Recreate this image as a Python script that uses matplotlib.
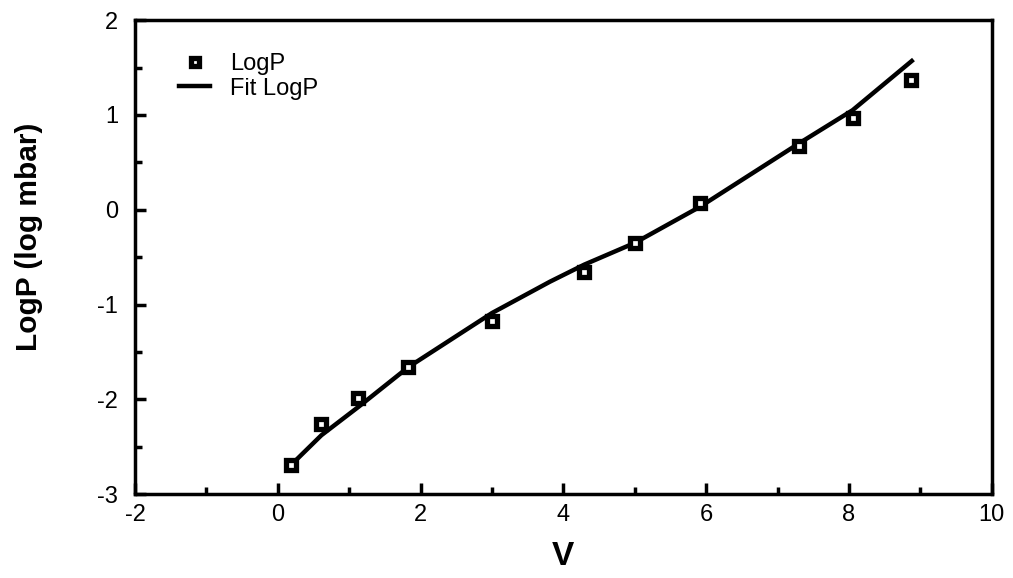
import numpy as np
import matplotlib
matplotlib.use('Agg')
import matplotlib.pyplot as plt
from matplotlib.ticker import MultipleLocator

plt.rcParams['font.family'] = ['Liberation Sans', 'DejaVu Sans']
plt.rcParams['axes.unicode_minus'] = False

# measured points (V, LogP)
v_data = [0.19, 0.61, 1.13, 1.83, 3.0, 4.29, 5.0, 5.91, 7.3, 8.05, 8.87]
logp_data = [-2.69, -2.26, -1.99, -1.66, -1.17, -0.655, -0.35, 0.07, 0.67, 0.97, 1.37]

# fitted curve
v_fit = [0.19, 0.61, 1.13, 1.83, 3.0, 3.81, 4.29, 5.0, 5.91, 7.3, 8.05, 8.88]
logp_fit = [-2.69, -2.38, -2.08, -1.66, -1.09, -0.76, -0.58, -0.35, 0.03, 0.70, 1.05, 1.57]

fig = plt.figure(figsize=(10.13, 5.78), dpi=100)
ax = fig.add_axes([0.1333, 0.1453, 0.8457, 0.8197])

ax.plot(v_data, logp_data, linestyle='none', marker='s', markersize=6.5,
        markerfacecolor='white', markeredgecolor='black', markeredgewidth=3.8,
        label='LogP', zorder=3)
ax.plot(v_fit, logp_fit, color='black', linewidth=3.2, label='Fit LogP', zorder=2)

ax.set_xlim(-2, 10)
ax.set_ylim(-3, 2)
ax.xaxis.set_major_locator(MultipleLocator(2))
ax.xaxis.set_minor_locator(MultipleLocator(1))
ax.yaxis.set_major_locator(MultipleLocator(1))
ax.yaxis.set_minor_locator(MultipleLocator(0.5))

for s in ax.spines.values():
    s.set_linewidth(2.5)
ax.tick_params(which='major', direction='in', length=8, width=2.5, labelsize=17)
ax.tick_params(which='minor', direction='in', length=5, width=2.5)
ax.tick_params(axis='x', pad=7)
ax.tick_params(axis='y', pad=12)

ax.set_xlabel('V', fontsize=24, fontweight='bold', labelpad=11)
ax.set_ylabel('LogP (log mbar)', fontsize=21.5, fontweight='bold')
ax.yaxis.set_label_coords(-0.107, 0.542)

ax.legend(loc='upper left', bbox_to_anchor=(0.027, 0.975), frameon=False,
          fontsize=17, handlelength=1.3, handletextpad=0.85, labelspacing=0.1,
          markerscale=0.9)

fig.savefig('out.png', dpi=100)
